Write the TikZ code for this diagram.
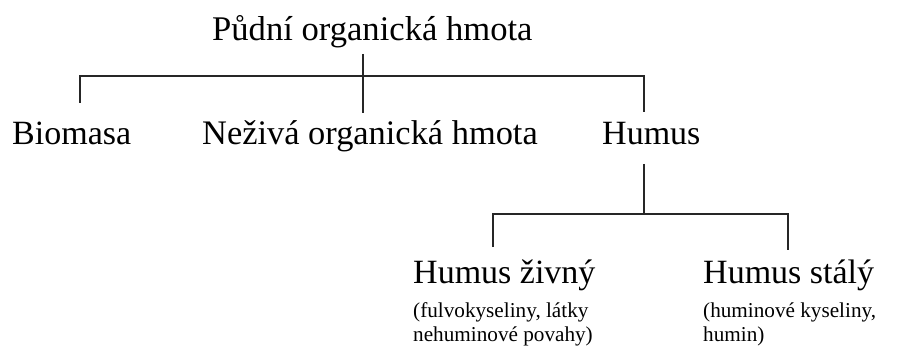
\documentclass[tikz,border=0pt]{standalone}
\usepackage{fontspec}
\setmainfont{Liberation Serif}
\begin{document}
\begin{tikzpicture}[x=1pt,y=-1pt,
  big/.style={anchor=base west,inner sep=0pt,font=\fontsize{34}{40}\selectfont},
  small/.style={anchor=base west,inner sep=0pt,font=\fontsize{21.2}{24}\selectfont},
  branch/.style={line width=1.3pt,draw=black!85}]
\useasboundingbox (0,0) rectangle (909,347);

% labels
\node[big,font=\fontsize{34.6}{40}\selectfont] (root) at (212,41) {Půdní organická hmota};
\node[big] (bio) at (12,145) {Biomasa};
\node[big,font=\fontsize{34.4}{40}\selectfont] (nez) at (202,145) {Neživá organická hmota};
\node[big] (hum) at (602,145) {Humus};
\node[big] (ziv) at (413,283) {Humus živný};
\node[small] (ziva) at (413,317) {(fulvokyseliny, látky};
\node[small] (zivb) at (413,341) {nehuminové povahy)};
\node[big] (sta) at (703,283) {Humus stálý};
\node[small] (staa) at (703,317) {(huminové kyseliny,};
\node[small] (stab) at (703,341) {humin)};

% junction points of the tree
\coordinate (rootstem) at (363,54);
\coordinate (nezend) at (363,113);
\coordinate (barL) at (80,76);
\coordinate (barM) at (363,76);
\coordinate (barR) at (644,76);
\coordinate (bioend) at (80,103);
\coordinate (humend) at (644,112);
\coordinate (humstem) at (644,164);
\coordinate (subbarL) at (493,214);
\coordinate (subbarM) at (644,214);
\coordinate (subbarR) at (788,214);
\coordinate (zivend) at (493,247);
\coordinate (staend) at (788,250);

% first level
\draw[branch] (rootstem) -- (nezend);
\draw[branch] (bioend) -- (barL) -- (barR) -- (humend);
% second level
\draw[branch] (humstem) -- (subbarM);
\draw[branch] (zivend) -- (subbarL) -- (subbarR) -- (staend);
\end{tikzpicture}
\end{document}
